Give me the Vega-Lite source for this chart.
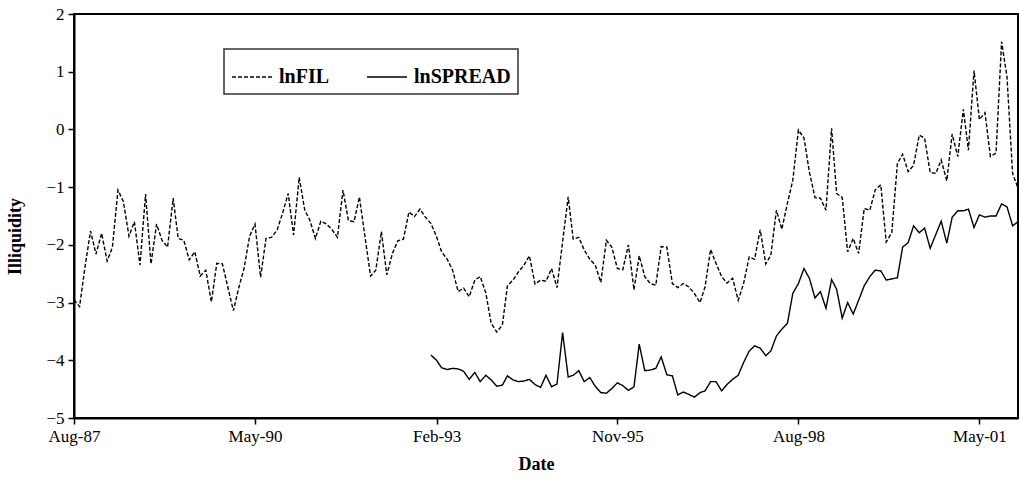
{
  "$schema": "https://vega.github.io/schema/vega-lite/v6.json",
  "width": 944,
  "height": 404,
  "autosize": {"type": "none"},
  "padding": {"left": 74, "top": 14, "right": 2, "bottom": 66},
  "background": "white",
  "data": {"values": [
    {"date":"1987-08-01","lnFIL":-2.95},{"date":"1987-09-01","lnFIL":-3.07},{"date":"1987-10-01","lnFIL":-2.38},{"date":"1987-11-01","lnFIL":-1.76},{"date":"1987-12-01","lnFIL":-2.16},
    {"date":"1988-01-01","lnFIL":-1.80},{"date":"1988-02-01","lnFIL":-2.28},{"date":"1988-03-01","lnFIL":-2.04},{"date":"1988-04-01","lnFIL":-1.05},{"date":"1988-05-01","lnFIL":-1.25},{"date":"1988-06-01","lnFIL":-1.85},{"date":"1988-07-01","lnFIL":-1.60},{"date":"1988-08-01","lnFIL":-2.35},{"date":"1988-09-01","lnFIL":-1.12},{"date":"1988-10-01","lnFIL":-2.33},{"date":"1988-11-01","lnFIL":-1.64},{"date":"1988-12-01","lnFIL":-1.92},
    {"date":"1989-01-01","lnFIL":-2.04},{"date":"1989-02-01","lnFIL":-1.19},{"date":"1989-03-01","lnFIL":-1.89},{"date":"1989-04-01","lnFIL":-1.92},{"date":"1989-05-01","lnFIL":-2.26},{"date":"1989-06-01","lnFIL":-2.12},{"date":"1989-07-01","lnFIL":-2.54},{"date":"1989-08-01","lnFIL":-2.44},{"date":"1989-09-01","lnFIL":-2.99},{"date":"1989-10-01","lnFIL":-2.32},{"date":"1989-11-01","lnFIL":-2.33},{"date":"1989-12-01","lnFIL":-2.73},
    {"date":"1990-01-01","lnFIL":-3.14},{"date":"1990-02-01","lnFIL":-2.73},{"date":"1990-03-01","lnFIL":-2.41},{"date":"1990-04-01","lnFIL":-1.85},{"date":"1990-05-01","lnFIL":-1.64},{"date":"1990-06-01","lnFIL":-2.56},{"date":"1990-07-01","lnFIL":-1.89},{"date":"1990-08-01","lnFIL":-1.87},{"date":"1990-09-01","lnFIL":-1.74},{"date":"1990-10-01","lnFIL":-1.45},{"date":"1990-11-01","lnFIL":-1.11},{"date":"1990-12-01","lnFIL":-1.83},
    {"date":"1991-01-01","lnFIL":-0.83},{"date":"1991-02-01","lnFIL":-1.40},{"date":"1991-03-01","lnFIL":-1.57},{"date":"1991-04-01","lnFIL":-1.89},{"date":"1991-05-01","lnFIL":-1.59},{"date":"1991-06-01","lnFIL":-1.64},{"date":"1991-07-01","lnFIL":-1.73},{"date":"1991-08-01","lnFIL":-1.87},{"date":"1991-09-01","lnFIL":-1.05},{"date":"1991-10-01","lnFIL":-1.58},{"date":"1991-11-01","lnFIL":-1.60},{"date":"1991-12-01","lnFIL":-1.17},
    {"date":"1992-01-01","lnFIL":-1.86},{"date":"1992-02-01","lnFIL":-2.54},{"date":"1992-03-01","lnFIL":-2.44},{"date":"1992-04-01","lnFIL":-1.77},{"date":"1992-05-01","lnFIL":-2.52},{"date":"1992-06-01","lnFIL":-2.15},{"date":"1992-07-01","lnFIL":-1.93},{"date":"1992-08-01","lnFIL":-1.90},{"date":"1992-09-01","lnFIL":-1.43},{"date":"1992-10-01","lnFIL":-1.51},{"date":"1992-11-01","lnFIL":-1.38},{"date":"1992-12-01","lnFIL":-1.52},
    {"date":"1993-01-01","lnFIL":-1.63,"lnSPREAD":-3.91},{"date":"1993-02-01","lnFIL":-1.86,"lnSPREAD":-4.00},{"date":"1993-03-01","lnFIL":-2.12,"lnSPREAD":-4.13},{"date":"1993-04-01","lnFIL":-2.25,"lnSPREAD":-4.16},{"date":"1993-05-01","lnFIL":-2.44,"lnSPREAD":-4.14},{"date":"1993-06-01","lnFIL":-2.81,"lnSPREAD":-4.15},{"date":"1993-07-01","lnFIL":-2.75,"lnSPREAD":-4.19},{"date":"1993-08-01","lnFIL":-2.90,"lnSPREAD":-4.33},{"date":"1993-09-01","lnFIL":-2.61,"lnSPREAD":-4.21},{"date":"1993-10-01","lnFIL":-2.55,"lnSPREAD":-4.37},{"date":"1993-11-01","lnFIL":-2.83,"lnSPREAD":-4.26},{"date":"1993-12-01","lnFIL":-3.36,"lnSPREAD":-4.34},
    {"date":"1994-01-01","lnFIL":-3.51,"lnSPREAD":-4.45},{"date":"1994-02-01","lnFIL":-3.39,"lnSPREAD":-4.43},{"date":"1994-03-01","lnFIL":-2.71,"lnSPREAD":-4.27},{"date":"1994-04-01","lnFIL":-2.61,"lnSPREAD":-4.34},{"date":"1994-05-01","lnFIL":-2.47,"lnSPREAD":-4.37},{"date":"1994-06-01","lnFIL":-2.35,"lnSPREAD":-4.36},{"date":"1994-07-01","lnFIL":-2.19,"lnSPREAD":-4.33},{"date":"1994-08-01","lnFIL":-2.68,"lnSPREAD":-4.42},{"date":"1994-09-01","lnFIL":-2.61,"lnSPREAD":-4.47},{"date":"1994-10-01","lnFIL":-2.63,"lnSPREAD":-4.26},{"date":"1994-11-01","lnFIL":-2.41,"lnSPREAD":-4.46},{"date":"1994-12-01","lnFIL":-2.74,"lnSPREAD":-4.41},
    {"date":"1995-01-01","lnFIL":-1.95,"lnSPREAD":-3.52},{"date":"1995-02-01","lnFIL":-1.17,"lnSPREAD":-4.29},{"date":"1995-03-01","lnFIL":-1.90,"lnSPREAD":-4.26},{"date":"1995-04-01","lnFIL":-1.87,"lnSPREAD":-4.18},{"date":"1995-05-01","lnFIL":-2.09,"lnSPREAD":-4.37},{"date":"1995-06-01","lnFIL":-2.25,"lnSPREAD":-4.30},{"date":"1995-07-01","lnFIL":-2.35,"lnSPREAD":-4.45},{"date":"1995-08-01","lnFIL":-2.65,"lnSPREAD":-4.56},{"date":"1995-09-01","lnFIL":-1.92,"lnSPREAD":-4.57},{"date":"1995-10-01","lnFIL":-2.04,"lnSPREAD":-4.49},{"date":"1995-11-01","lnFIL":-2.41,"lnSPREAD":-4.39},{"date":"1995-12-01","lnFIL":-2.43,"lnSPREAD":-4.44},
    {"date":"1996-01-01","lnFIL":-2.00,"lnSPREAD":-4.52},{"date":"1996-02-01","lnFIL":-2.78,"lnSPREAD":-4.46},{"date":"1996-03-01","lnFIL":-2.19,"lnSPREAD":-3.72},{"date":"1996-04-01","lnFIL":-2.55,"lnSPREAD":-4.18},{"date":"1996-05-01","lnFIL":-2.67,"lnSPREAD":-4.17},{"date":"1996-06-01","lnFIL":-2.70,"lnSPREAD":-4.14},{"date":"1996-07-01","lnFIL":-2.03,"lnSPREAD":-3.94},{"date":"1996-08-01","lnFIL":-2.04,"lnSPREAD":-4.25},{"date":"1996-09-01","lnFIL":-2.67,"lnSPREAD":-4.27},{"date":"1996-10-01","lnFIL":-2.74,"lnSPREAD":-4.60},{"date":"1996-11-01","lnFIL":-2.67,"lnSPREAD":-4.55},{"date":"1996-12-01","lnFIL":-2.73,"lnSPREAD":-4.59},
    {"date":"1997-01-01","lnFIL":-2.84,"lnSPREAD":-4.64},{"date":"1997-02-01","lnFIL":-3.00,"lnSPREAD":-4.56},{"date":"1997-03-01","lnFIL":-2.73,"lnSPREAD":-4.53},{"date":"1997-04-01","lnFIL":-2.08,"lnSPREAD":-4.37},{"date":"1997-05-01","lnFIL":-2.32,"lnSPREAD":-4.37},{"date":"1997-06-01","lnFIL":-2.55,"lnSPREAD":-4.53},{"date":"1997-07-01","lnFIL":-2.66,"lnSPREAD":-4.42},{"date":"1997-08-01","lnFIL":-2.58,"lnSPREAD":-4.33},{"date":"1997-09-01","lnFIL":-2.96,"lnSPREAD":-4.26},{"date":"1997-10-01","lnFIL":-2.67,"lnSPREAD":-4.04},{"date":"1997-11-01","lnFIL":-2.21,"lnSPREAD":-3.84},{"date":"1997-12-01","lnFIL":-2.25,"lnSPREAD":-3.75},
    {"date":"1998-01-01","lnFIL":-1.74,"lnSPREAD":-3.79},{"date":"1998-02-01","lnFIL":-2.33,"lnSPREAD":-3.92},{"date":"1998-03-01","lnFIL":-2.18,"lnSPREAD":-3.84},{"date":"1998-04-01","lnFIL":-1.40,"lnSPREAD":-3.58},{"date":"1998-05-01","lnFIL":-1.73,"lnSPREAD":-3.46},{"date":"1998-06-01","lnFIL":-1.28,"lnSPREAD":-3.36},{"date":"1998-07-01","lnFIL":-0.88,"lnSPREAD":-2.84},{"date":"1998-08-01","lnFIL":-0.01,"lnSPREAD":-2.67},{"date":"1998-09-01","lnFIL":-0.15,"lnSPREAD":-2.41},{"date":"1998-10-01","lnFIL":-0.74,"lnSPREAD":-2.58},{"date":"1998-11-01","lnFIL":-1.18,"lnSPREAD":-2.92},{"date":"1998-12-01","lnFIL":-1.19,"lnSPREAD":-2.81},
    {"date":"1999-01-01","lnFIL":-1.40,"lnSPREAD":-3.10},{"date":"1999-02-01","lnFIL":0.02,"lnSPREAD":-2.60},{"date":"1999-03-01","lnFIL":-1.11,"lnSPREAD":-2.77},{"date":"1999-04-01","lnFIL":-1.18,"lnSPREAD":-3.27},{"date":"1999-05-01","lnFIL":-2.12,"lnSPREAD":-3.00},{"date":"1999-06-01","lnFIL":-1.89,"lnSPREAD":-3.20},{"date":"1999-07-01","lnFIL":-2.15,"lnSPREAD":-2.96},{"date":"1999-08-01","lnFIL":-1.37,"lnSPREAD":-2.71},{"date":"1999-09-01","lnFIL":-1.40,"lnSPREAD":-2.55},{"date":"1999-10-01","lnFIL":-1.05,"lnSPREAD":-2.44},{"date":"1999-11-01","lnFIL":-0.96,"lnSPREAD":-2.45},{"date":"1999-12-01","lnFIL":-1.95,"lnSPREAD":-2.61},
    {"date":"2000-01-01","lnFIL":-1.79,"lnSPREAD":-2.59},{"date":"2000-02-01","lnFIL":-0.59,"lnSPREAD":-2.57},{"date":"2000-03-01","lnFIL":-0.43,"lnSPREAD":-2.04},{"date":"2000-04-01","lnFIL":-0.73,"lnSPREAD":-1.96},{"date":"2000-05-01","lnFIL":-0.62,"lnSPREAD":-1.67},{"date":"2000-06-01","lnFIL":-0.10,"lnSPREAD":-1.79},{"date":"2000-07-01","lnFIL":-0.15,"lnSPREAD":-1.71},{"date":"2000-08-01","lnFIL":-0.75,"lnSPREAD":-2.06},{"date":"2000-09-01","lnFIL":-0.76,"lnSPREAD":-1.82},{"date":"2000-10-01","lnFIL":-0.53,"lnSPREAD":-1.59},{"date":"2000-11-01","lnFIL":-0.89,"lnSPREAD":-1.97},{"date":"2000-12-01","lnFIL":-0.08,"lnSPREAD":-1.52},
    {"date":"2001-01-01","lnFIL":-0.47,"lnSPREAD":-1.41},{"date":"2001-02-01","lnFIL":0.35,"lnSPREAD":-1.41},{"date":"2001-03-01","lnFIL":-0.36,"lnSPREAD":-1.38},{"date":"2001-04-01","lnFIL":1.02,"lnSPREAD":-1.70},{"date":"2001-05-01","lnFIL":0.17,"lnSPREAD":-1.48},{"date":"2001-06-01","lnFIL":0.29,"lnSPREAD":-1.52},{"date":"2001-07-01","lnFIL":-0.47,"lnSPREAD":-1.50},{"date":"2001-08-01","lnFIL":-0.41,"lnSPREAD":-1.50},{"date":"2001-09-01","lnFIL":1.52,"lnSPREAD":-1.29},{"date":"2001-10-01","lnFIL":0.91,"lnSPREAD":-1.34},{"date":"2001-11-01","lnFIL":-0.76,"lnSPREAD":-1.67},{"date":"2001-12-01","lnFIL":-1.02,"lnSPREAD":-1.60}
  ]},
  "transform": [
    {"fold": ["lnFIL", "lnSPREAD"], "as": ["series", "value"]},
    {"filter": "isValid(datum.value)"}
  ],
  "mark": {"type": "line", "color": "black", "strokeWidth": 1.4, "clip": true},
  "encoding": {
    "x": {
      "field": "date", "type": "temporal", "title": "Date",
      "scale": {"type": "utc", "domain": [{"year": 1987, "month": 8, "date": 1, "utc": true}, {"year": 2001, "month": 12, "date": 1, "utc": true}]},
      "axis": {
        "values": [
          {"year": 1987, "month": 8, "date": 1, "utc": true},
          {"year": 1990, "month": 5, "date": 1, "utc": true},
          {"year": 1993, "month": 2, "date": 1, "utc": true},
          {"year": 1995, "month": 11, "date": 1, "utc": true},
          {"year": 1998, "month": 8, "date": 1, "utc": true},
          {"year": 2001, "month": 5, "date": 1, "utc": true}
        ],
        "format": "%b-%y", "labelPadding": 4, "titlePadding": 11, "labelFlush": false, "titleX": 462
      }
    },
    "y": {
      "field": "value", "type": "quantitative", "title": "Illiquidity",
      "scale": {"domain": [-5, 2], "nice": false, "zero": false},
      "axis": {"values": [-5, -4, -3, -2, -1, 0, 1, 2], "labelPadding": 4, "titlePadding": 21, "titleY": 222}
    },
    "strokeDash": {
      "field": "series", "type": "nominal",
      "scale": {"domain": ["lnFIL", "lnSPREAD"], "range": [[4, 2], [1, 0]]},
      "legend": {"title": null}
    }
  },
  "config": {
    "font": "Liberation Serif",
    "view": {"stroke": "black", "strokeWidth": 2},
    "axis": {
      "grid": false,
      "domainColor": "black", "domainWidth": 2,
      "tickColor": "black", "tickSize": 6, "tickWidth": 1.5,
      "labelFont": "Liberation Serif", "labelFontSize": 17, "labelColor": "black",
      "titleFont": "Liberation Serif", "titleFontSize": 18, "titleFontWeight": "bold", "titleColor": "black"
    },
    "legend": {
      "orient": "none", "legendX": 150, "legendY": 35, "direction": "horizontal",
      "strokeColor": "#333", "strokeWidth": 1.5, "fillColor": "white", "padding": 7,
      "labelFont": "Liberation Serif", "labelFontSize": 20, "labelFontWeight": "bold", "labelColor": "black",
      "labelOffset": 6, "columnPadding": 34,
      "symbolType": "stroke", "symbolSize": 1600, "symbolStrokeWidth": 1.5, "symbolStrokeColor": "black"
    }
  }
}
